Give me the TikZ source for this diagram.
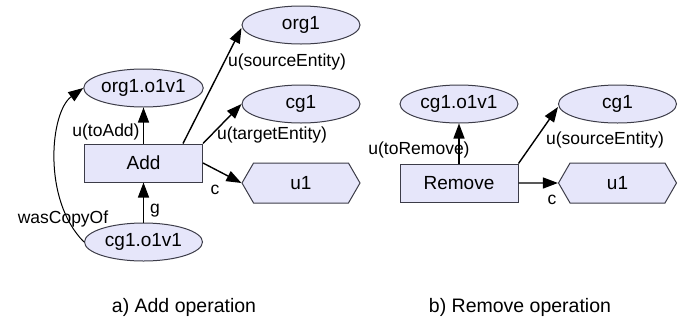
\documentclass[tikz,border=0pt]{standalone}
\usepackage{fontspec}
\setmainfont{Liberation Sans}
\usetikzlibrary{arrows.meta,shapes.geometric,shapes.symbols}
\definecolor{nodefill}{RGB}{230,230,250}
\definecolor{nodeline}{RGB}{60,60,72}

\begin{document}
\begin{tikzpicture}[x=1pt,y=-1pt,
  ent/.style={ellipse,draw=nodeline,fill=nodefill,line width=1pt,minimum width=118pt,minimum height=38pt,inner sep=0pt,font=\fontsize{19}{22}\selectfont},
  act/.style={rectangle,draw=nodeline,fill=nodefill,line width=1pt,minimum width=118pt,minimum height=38pt,inner sep=0pt,font=\fontsize{19}{22}\selectfont},
  agt/.style={signal,signal to=west and east,signal pointer angle=120,draw=nodeline,fill=nodefill,line width=1pt,minimum width=118pt,minimum height=40pt,inner sep=0pt,font=\fontsize{19}{22}\selectfont},
  rel/.style={-{Triangle[length=15pt,width=11pt]},line width=1.4pt},
  lbl/.style={inner sep=0pt,font=\fontsize{17.5}{20}\selectfont},
  capt/.style={inner sep=0pt,font=\fontsize{19.5}{22}\selectfont}]
 \useasboundingbox (0,0) rectangle (694,327);
 % a) Add operation
 \begin{scope}
  \node[ent] (org1) at (301,25) {org1};
  \node[ent] (oro) at (143.5,88) {org1.o1v1};
  \node[ent] (cg1) at (301,104) {cg1};
  \node[act] (add) at (143.5,163) {Add};
  \node[agt] (u1) at (301,183) {u1};
  \node[ent] (cgo) at (143.5,242) {cg1.o1v1};
  \draw[rel] (add) -- (oro);
  \draw[rel] ([xshift=-20pt]add.north east) -- ([yshift=-3pt]org1.west);
  \draw[rel] (add.north east) -- (cg1.west);
  \draw[rel] (add.east) -- (u1.west);
  \draw[rel] (cgo) -- (add);
  \draw[rel,line width=1pt] (cgo.west) .. controls (42,200) and (50,112) .. (oro.west);
  \node[lbl] (ltoadd) at (106,132) {u(toAdd)};
  \node[lbl] (lsrc) at (287,62) {u(sourceEntity)};
  \node[lbl] (ltgt) at (272,135) {u(targetEntity)};
  \node[lbl] (lc) at (215,190) {c};
  \node[lbl] (lg) at (155,211) {g};
  \node[lbl] (lcopy) at (63,219) {wasCopyOf};
  \node[capt] (capa) at (184,307) {a) Add operation};
 \end{scope}
 % b) Remove operation
 \begin{scope}
  \node[ent] (rcgo) at (459,104) {cg1.o1v1};
  \node[ent] (rcg1) at (617.5,104) {cg1};
  \node[act] (rem) at (459,183) {Remove};
  \node[agt] (ru1) at (617.5,183) {u1};
  \draw[rel] (rem) -- (rcgo);
  \draw[rel] (rem.north east) -- ([yshift=-3pt]rcg1.west);
  \draw[rel] (rem) -- (ru1);
  \node[lbl] (ltorem) at (419,150) {u(toRemove)};
  \node[lbl] (lrsrc) at (605,140) {u(sourceEntity)};
  \node[lbl] (lrc) at (552,200) {c};
  \node[capt] (capb) at (520,307) {b) Remove operation};
 \end{scope}
\end{tikzpicture}
\end{document}
